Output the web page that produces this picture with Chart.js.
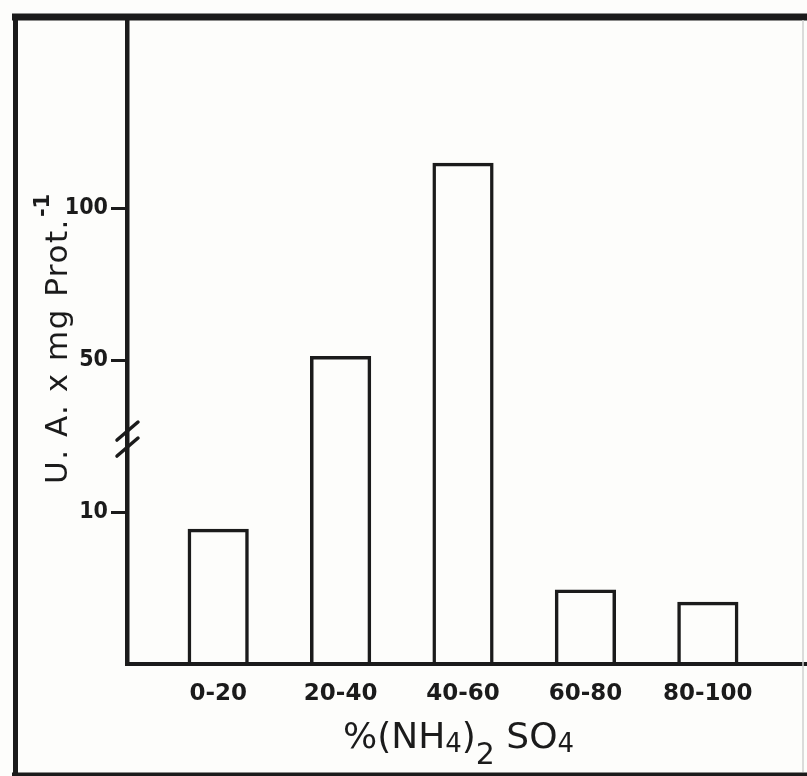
<!DOCTYPE html>
<html lang="es">
<head>
<meta charset="UTF-8">
<title>Actividad por fracción de (NH4)2SO4</title>
<script src="https://cdn.jsdelivr.net/npm/chart.js"></script>
<style>
  html, body { margin: 0; padding: 0; background: #fdfdfb; overflow: hidden; }
  #wrap { width: 807px; height: 776px; }
</style>
</head>
<body>
<div id="wrap"><canvas id="fractionChart"></canvas></div>
<script>
  // ammonium sulphate cuts and specific activity of each fraction
  const fractions = ['0-20', '20-40', '40-60', '60-80', '80-100'];
  const activity = [8.9, 51.3, 114.9, 4.9, 4.1];
  const yTicks = [10, 50, 100];
  // broken axis: every interval between these values gets the same height
  const yBreaks = [0, 10, 50, 100];
  const yMax = 162.2;

  const ink = '#1b1b1b';
  const font = "'DejaVu Sans', sans-serif";

  function toSegment(v) {
    for (let i = 1; i < yBreaks.length; i++) {
      if (v <= yBreaks[i]) return i - 1 + (v - yBreaks[i - 1]) / (yBreaks[i] - yBreaks[i - 1]);
    }
    const n = yBreaks.length - 1;
    return n + (v - yBreaks[n]) / (yBreaks[n] - yBreaks[n - 1]);
  }

  function fromSegment(s) {
    const n = yBreaks.length - 1;
    if (s >= n) return yBreaks[n] + (s - n) * (yBreaks[n] - yBreaks[n - 1]);
    const i = Math.max(0, Math.floor(s));
    return yBreaks[i] + (s - i) * (yBreaks[i + 1] - yBreaks[i]);
  }

  class BrokenScale extends Chart.LinearScale {
    getPixelForValue(value) {
      if (value === null || isNaN(value)) return NaN;
      return this.getPixelForDecimal(toSegment(value) / toSegment(this.max));
    }
    getValueForPixel(pixel) {
      return fromSegment(this.getDecimalForPixel(pixel) * toSegment(this.max));
    }
  }
  BrokenScale.id = 'broken';
  BrokenScale.defaults = Chart.LinearScale.defaults;
  Chart.register(BrokenScale);

  // outer frame of the figure
  const framePlugin = {
    id: 'frame',
    afterDraw(chart) {
      const ctx = chart.ctx;
      ctx.save();
      ctx.strokeStyle = ink;
      ctx.lineCap = 'butt';
      ctx.lineWidth = 7;
      ctx.beginPath(); ctx.moveTo(12, 17); ctx.lineTo(807, 17); ctx.stroke();
      ctx.lineWidth = 5;
      ctx.beginPath(); ctx.moveTo(15.5, 14); ctx.lineTo(15.5, 776); ctx.stroke();
      ctx.lineWidth = 4;
      ctx.beginPath(); ctx.moveTo(12, 774.5); ctx.lineTo(807, 774.5); ctx.stroke();
      ctx.strokeStyle = '#cfcfcf';
      ctx.lineWidth = 1.5;
      ctx.beginPath(); ctx.moveTo(803, 20); ctx.lineTo(803, 772); ctx.stroke();
      ctx.restore();
    }
  };

  // the // marks on the y axis between 10 and 50
  const breakPlugin = {
    id: 'axisBreak',
    afterDraw(chart) {
      const y = chart.scales.y;
      const ctx = chart.ctx;
      const x = chart.chartArea.left;
      const cy = (y.getPixelForValue(10) + y.getPixelForValue(50)) / 2 + 3;
      ctx.save();
      ctx.strokeStyle = ink;
      ctx.lineWidth = 3.5;
      ctx.lineCap = 'round';
      [-8, 8].forEach(off => {
        ctx.beginPath();
        ctx.moveTo(x - 10, cy + off + 9);
        ctx.lineTo(x + 11, cy + off - 9);
        ctx.stroke();
      });
      ctx.restore();
    }
  };

  // axis titles with sub- and superscripts
  const titlePlugin = {
    id: 'axisTitles',
    afterDraw(chart) {
      const ctx = chart.ctx;
      ctx.save();
      ctx.fillStyle = ink;
      ctx.textBaseline = 'alphabetic';
      ctx.textAlign = 'left';

      ctx.save();
      ctx.translate(67, 484);
      ctx.rotate(-Math.PI / 2);
      ctx.font = `31px ${font}`;
      ctx.letterSpacing = '1.5px';
      const yTitle = 'U. A. x mg Prot.';
      ctx.fillText(yTitle, 0, 0);
      const w = ctx.measureText(yTitle).width;
      ctx.letterSpacing = '0px';
      ctx.font = `bold 21px ${font}`;
      ctx.fillText('-1', w + 1, -18);
      ctx.restore();

      const parts = [
        { t: '%(NH', size: 36, dy: 0 },
        { t: '4', size: 26, dy: 4 },
        { t: ')', size: 36, dy: 0 },
        { t: '2', size: 30, dy: 16 },
        { t: ' SO', size: 36, dy: 0 },
        { t: '4', size: 26, dy: 4 }
      ];
      let px = 343;
      parts.forEach(p => {
        ctx.font = `${p.size}px ${font}`;
        ctx.fillText(p.t, px, 748 + p.dy);
        px += ctx.measureText(p.t).width;
      });
      ctx.restore();
    }
  };

  new Chart(document.getElementById('fractionChart'), {
    type: 'bar',
    data: {
      datasets: [{
        label: 'U.A. x mg Prot.-1',
        data: activity.map((v, i) => ({ x: i, y: v })),
        backgroundColor: 'rgba(255,255,255,0)',
        borderColor: ink,
        borderWidth: 3.5,
        barPercentage: 0.5,
        categoryPercentage: 1
      }]
    },
    options: {
      responsive: true,
      maintainAspectRatio: false,
      animation: false,
      layout: { padding: { top: 19, right: 0, left: 0, bottom: 0 } },
      plugins: { legend: { display: false }, tooltip: { enabled: false } },
      scales: {
        x: {
          type: 'linear',
          offset: false,
          min: -0.745,
          max: 4.81,
          afterBuildTicks: s => { s.ticks = fractions.map((_, i) => ({ value: i })); },
          afterFit: s => { s.height = 112; },
          grid: { display: false, drawTicks: false },
          border: { display: true, color: ink, width: 4 },
          ticks: {
            autoSkip: false,
            maxRotation: 0,
            padding: 16,
            color: ink,
            font: { family: font, size: 23, weight: 'bold' },
            callback: v => fractions[v]
          }
        },
        y: {
          type: 'broken',
          min: 0,
          max: yMax,
          afterBuildTicks: s => { s.ticks = yTicks.map(v => ({ value: v })); },
          afterFit: s => { s.width = 127; },
          grid: {
            display: true,
            drawOnChartArea: false,
            drawTicks: true,
            tickLength: 16,
            tickColor: ink,
            lineWidth: 3
          },
          border: { display: true, color: ink, width: 4.5 },
          ticks: {
            padding: 3,
            color: ink,
            font: { family: "'DejaVu Sans Condensed', 'DejaVu Sans', sans-serif", size: 23, weight: 'bold' },
            callback: v => String(v)
          }
        }
      }
    },
    plugins: [framePlugin, breakPlugin, titlePlugin]
  });
</script>
</body>
</html>
